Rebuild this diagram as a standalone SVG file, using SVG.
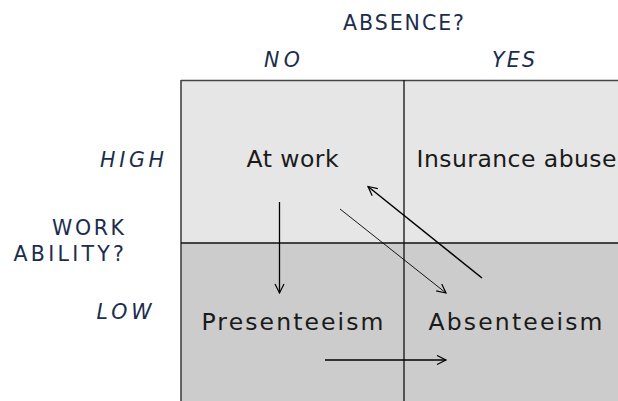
<svg xmlns="http://www.w3.org/2000/svg" width="618" height="401" viewBox="0 0 618 401">
<style>
.lbl{font-family:"DejaVu Sans","Liberation Sans",sans-serif;font-size:20.5px;fill:#1b2d4d}
.it{font-style:italic}
.cell{font-family:"DejaVu Sans","Liberation Sans",sans-serif;font-size:23.5px;fill:#1a1a1a}
.grid{stroke:#111;stroke-width:1.3;fill:none}
.arr{stroke:#000;fill:none;marker-end:url(#ah)}
</style>
<defs>
<marker id="ah" markerUnits="userSpaceOnUse" markerWidth="12" markerHeight="12" viewBox="0 0 12 12" refX="10" refY="5" orient="auto">
<path d="M1,0.5 L10,5 L1,9.5" fill="none" stroke="#000" stroke-width="1.2"/>
</marker>
</defs>
<rect width="618" height="401" fill="#fff"/>
<g id="axis-labels">
<text class="lbl" x="343" y="30" textLength="121" lengthAdjust="spacing">ABSENCE?</text>
<text class="lbl it" x="264" y="66.5" textLength="36" lengthAdjust="spacing">NO</text>
<text class="lbl it" x="492" y="66.5" textLength="43" lengthAdjust="spacing">YES</text>
<text class="lbl it" x="100" y="166.5" textLength="64" lengthAdjust="spacing">HIGH</text>
<text class="lbl" x="52" y="234.5" textLength="72" lengthAdjust="spacing">WORK</text>
<text class="lbl" x="13.5" y="261" textLength="110.5" lengthAdjust="spacing">ABILITY?</text>
<text class="lbl it" x="96.5" y="318.5" textLength="55" lengthAdjust="spacing">LOW</text>
</g>
<g id="grid">
<rect x="181" y="80.5" width="437" height="162.5" fill="#e6e6e6"/>
<rect x="181" y="243" width="437" height="158" fill="#cccccc"/>
<line x1="181" y1="80.5" x2="618" y2="80.5" style="stroke:#444;stroke-width:1.6"/>
<line x1="181" y1="80" x2="181" y2="401" style="stroke:#444;stroke-width:1.6"/>
<line class="grid" x1="181" y1="243" x2="618" y2="243"/>
<line class="grid" x1="404" y1="80" x2="404" y2="401"/>
</g>
<g id="node-at-work"><text class="cell" x="246.5" y="166.5" textLength="92" lengthAdjust="spacing">At work</text></g>
<g id="node-insurance-abuse"><text class="cell" x="416.5" y="166.5" textLength="200" lengthAdjust="spacing">Insurance abuse</text></g>
<g id="node-presenteeism"><text class="cell" x="201.5" y="329.5" textLength="182" lengthAdjust="spacing">Presenteeism</text></g>
<g id="node-absenteeism"><text class="cell" x="428.5" y="329.5" textLength="174" lengthAdjust="spacing">Absenteeism</text></g>
<g id="connectors">
<line class="arr" x1="279.5" y1="202" x2="279.5" y2="293" stroke-width="1.3"/>
<line class="arr" x1="340" y1="209" x2="446" y2="293" stroke-width="0.9"/>
<line class="arr" x1="482" y1="278" x2="368" y2="186.5" stroke-width="1.5"/>
<line class="arr" x1="325" y1="360" x2="446" y2="360" stroke-width="1.3"/>
</g>
</svg>
